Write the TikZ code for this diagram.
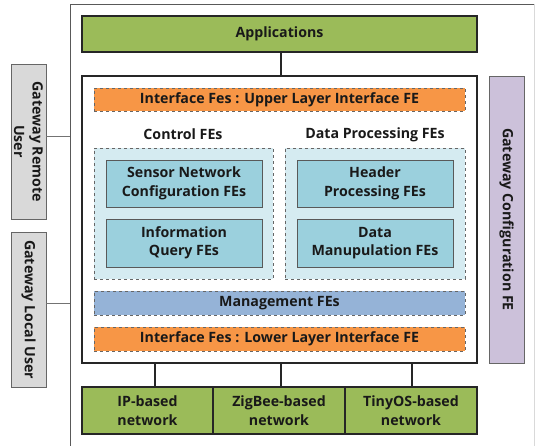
\documentclass[tikz,border=0pt]{standalone}
\usepackage{fontspec}
\setmainfont{Open Sans}[BoldFont={Open Sans Bold}]
\begin{document}
\begin{tikzpicture}[x=1pt,y=-1pt,
  lbl/.style={font=\bfseries\fontsize{14.2}{18.5}\selectfont, text=black!90, align=center},
  greenbox/.style={draw=black!85, line width=1.3pt, fill=GreenC},
  orangebar/.style={draw=gray!80!black, dashed, fill=OrangeC, line width=0.6pt},
  dashgroup/.style={draw=gray!80!black, dashed, fill=LightBlueC, line width=0.6pt},
  bluebox/.style={draw=gray!70!black, fill=MidBlueC, line width=0.7pt},
  greybox/.style={draw=gray!80!black, fill=GreyC, line width=0.8pt},
  conn/.style={line width=1.3pt, draw=black!85},
  thin/.style={line width=0.8pt, draw=gray!90!black}
]
\definecolor{GreenC}{HTML}{9BBB59}
\definecolor{OrangeC}{HTML}{F79646}
\definecolor{LightBlueC}{HTML}{D5EBF1}
\definecolor{MidBlueC}{HTML}{9BD0DD}
\definecolor{MgmtC}{HTML}{95B3D7}
\definecolor{GreyC}{HTML}{D9D9D9}
\definecolor{PurpleC}{HTML}{CCC1DA}
\useasboundingbox (0,0) rectangle (536,446);
% outer frame
\draw[line width=0.8pt, draw=gray!70!black] (70,446) -- (70,4) -- (534,4);
\draw[line width=0.6pt, draw=gray!30] (534,4) -- (534,446);
% Applications
\node[greenbox, minimum width=395, minimum height=36, inner sep=0, lbl] (app) at (279.5,34) {Applications};
% main box
\node[draw=black!85, line width=1.3pt, fill=white, minimum width=395, minimum height=287, inner sep=0] (main) at (279.5,219.5) {};
\coordinate (appc) at (281,52);
\draw[conn] (app.south -| appc) -- (main.north -| appc);
% upper interface
\node[orangebar, minimum width=371, minimum height=23, inner sep=0, lbl] (upper) at (279.5,99.5) {Interface Fes : Upper Layer Interface FE};
\node[lbl] (ctrl) at (183,134.5) {Control FEs};
\node[lbl] (dproc) at (375,134.5) {Data Processing FEs};
\node[dashgroup, minimum width=179, minimum height=131, inner sep=0] (cgroup) at (183.5,213.5) {};
\node[dashgroup, minimum width=180, minimum height=131, inner sep=0] (dgroup) at (375,213.5) {};
\node[bluebox, minimum width=156, minimum height=47, inner sep=0, lbl] (sensor) at (184,183.5) {Sensor Network\\Configuration FEs};
\node[bluebox, minimum width=156, minimum height=48, inner sep=0, lbl] (info) at (184,243) {Information\\Query FEs};
\node[bluebox, minimum width=156, minimum height=47, inner sep=0, lbl] (header) at (375,183.5) {Header\\Processing FEs};
\node[bluebox, minimum width=156, minimum height=48, inner sep=0, lbl] (dmanu) at (375,243) {Data\\Manupulation FEs};
\node[orangebar, fill=MgmtC, minimum width=371, minimum height=24, inner sep=0, lbl] (mgmt) at (279.5,303) {Management FEs};
\node[orangebar, minimum width=371, minimum height=24, inner sep=0, lbl] (lower) at (279.5,339) {Interface Fes : Lower Layer Interface FE};
% networks
\node[greenbox, minimum width=131, minimum height=47, inner sep=0, lbl] (ip) at (147.5,410.5) {IP-based\\network};
\node[greenbox, minimum width=132, minimum height=47, inner sep=0, lbl] (zig) at (279,410.5) {ZigBee-based\\network};
\node[greenbox, minimum width=132, minimum height=47, inner sep=0, lbl] (tiny) at (411,410.5) {TinyOS-based\\network};
\coordinate (c1) at (155,0);
\coordinate (c2) at (281,0);
\coordinate (c3) at (412,0);
\draw[conn] (main.south -| c1) -- (ip.north -| c1);
\draw[conn] (main.south -| c2) -- (zig.north -| c2);
\draw[conn] (main.south -| c3) -- (tiny.north -| c3);
% side boxes
\node[greybox, minimum width=35, minimum height=155, inner sep=0] (remote) at (28.5,141.5) {};
\node[lbl, rotate=-90] at (remote.center) {Gateway Remote\\User};
\node[greybox, minimum width=35, minimum height=155, inner sep=0] (local) at (28.5,309.5) {};
\node[lbl, rotate=-90] at (local.center) {Gateway Local User};
\node[greybox, fill=PurpleC, minimum width=35, minimum height=287, inner sep=0] (gconf) at (506.5,219.5) {};
\node[lbl, rotate=-90] at (gconf.center) {Gateway Configuration FE};
\coordinate (f1) at (70,136);
\coordinate (f2) at (70,303);
\draw[thin] (remote.east |- f1) -- (f1);
\draw[thin] (local.east |- f2) -- (f2);
\end{tikzpicture}
\end{document}
